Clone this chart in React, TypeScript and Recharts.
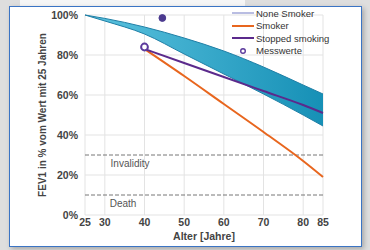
import { Area, CartesianGrid, ComposedChart, Label, Line, ReferenceLine, Scatter, XAxis, YAxis, ZAxis } from 'recharts'

const ages = [25, 30, 40, 50, 60, 70, 80, 85]
const nonSmokerHigh = [100, 98.3, 94, 88.5, 82, 74, 65, 60.5]
const nonSmokerLow = [100, 97, 90.5, 80.5, 70.5, 60.5, 50, 44.5]
const smoker = [null, null, 83, 69.5, 55.5, 41.5, 27, 19]
const stoppedSmoking = [null, null, 83, 76, 69, 62, 55, 51]
const measuredOpen = [{ age: 40, fev: 84 }]
const measuredFilled = [{ age: 44.5, fev: 98.5 }]
const xTicks = [25, 30, 40, 50, 60, 70, 80, 85]
const yTicks = [0, 20, 40, 60, 80, 100]
const limits = [
  { y: 30, name: 'Invalidity', dx: -74 },
  { y: 10, name: 'Death', dx: -81 },
]
const legendItems = [
  { name: 'None Smoker', color: '#b9bde2', kind: 'line' },
  { name: 'Smoker', color: '#e8661e', kind: 'line' },
  { name: 'Stopped smoking', color: '#5b2a8c', kind: 'line' },
  { name: 'Messwerte', color: '#5b3a9c', kind: 'dot' },
]

const rows = ages.map((age, i) => ({
  age,
  band: [nonSmokerLow[i], nonSmokerHigh[i]],
  smoker: smoker[i],
  stopped: stoppedSmoking[i],
}))

const font = 'Arial, "Liberation Sans", sans-serif'
const tickStyle = { fontSize: 10.5, fontWeight: 700, fill: '#444', fontFamily: font }

function LegendBox() {
  return (
    <div style={{ position: 'absolute', left: 222, top: 0, fontFamily: font, fontSize: 9.5, color: '#333' }}>
      {legendItems.map((item) => (
        <div key={item.name} style={{ display: 'flex', alignItems: 'center', height: 12.5 }}>
          <svg width={23} height={10} style={{ marginRight: 1 }}>
            {item.kind === 'line' ? (
              <line x1={0} x2={22} y1={5} y2={5} stroke={item.color} strokeWidth={2} />
            ) : (
              <circle cx={11} cy={5} r={2.3} fill="none" stroke={item.color} strokeWidth={1.4} />
            )}
          </svg>
          <span>{item.name}</span>
        </div>
      ))}
    </div>
  )
}

export default function App() {
  return (
    <div style={{ position: 'absolute', left: 0, top: 0, width: 370, height: 250, background: '#dedede', overflow: 'hidden' }}>
      <div style={{ position: 'absolute', left: 20, top: 0, width: 225, height: 6, background: '#f6f6f6' }} />
      <div
        style={{
          position: 'absolute',
          left: 9,
          top: 6,
          width: 353,
          height: 241,
          boxSizing: 'border-box',
          border: '1px solid #3b74c4',
          background: '#fff',
          boxShadow: '2px 2px 5px rgba(0,0,0,0.25)',
        }}
      >
        <ComposedChart width={351} height={239} data={rows} margin={{ top: 8, right: 38, bottom: 0, left: 0 }}>
          <defs>
            <linearGradient id="bandFill" x1="0" y1="0" x2="1" y2="0">
              <stop offset="0%" stopColor="#5cc3df" />
              <stop offset="100%" stopColor="#1690b6" />
            </linearGradient>
          </defs>
          <CartesianGrid stroke="#e3e3e3" />
          <XAxis
            dataKey="age"
            type="number"
            domain={[25, 85]}
            ticks={xTicks}
            interval={0}
            height={31}
            tickLine={false}
            axisLine={false}
            tickSize={2}
            tickMargin={2}
            tick={tickStyle}
          >
            <Label value="Alter [Jahre]" position="center" dy={6} style={{ ...tickStyle, fontSize: 10.5 }} />
          </XAxis>
          <YAxis
            type="number"
            domain={[0, 100]}
            ticks={yTicks}
            width={75}
            tickLine={false}
            axisLine={false}
            tickSize={5}
            tickMargin={2}
            tick={tickStyle}
            tickFormatter={(v) => `${v}%`}
          >
            <Label
              value="FEV1 in % vom Wert mit 25 Jahren"
              angle={-90}
              position="center"
              dx={-5}
              style={{ ...tickStyle, fontSize: 10 }}
            />
          </YAxis>
          <ZAxis range={[36, 36]} />
          {limits.map((l) => (
            <ReferenceLine key={l.name} y={l.y} stroke="#777" strokeDasharray="4 2" strokeWidth={1}>
              <Label value={l.name} position="bottom" dx={l.dx} style={{ fontFamily: font, fontSize: 10, fill: '#555' }} />
            </ReferenceLine>
          ))}
          <Area
            dataKey="band"
            type="monotone"
            fill="url(#bandFill)"
            fillOpacity={1}
            stroke="#1f7fa6"
            strokeWidth={1}
            isAnimationActive={false}
          />
          <Line dataKey="smoker" type="monotone" stroke="#e8661e" strokeWidth={2} dot={false} connectNulls isAnimationActive={false} />
          <Line dataKey="stopped" type="monotone" stroke="#5b2a8c" strokeWidth={2} dot={false} connectNulls isAnimationActive={false} />
          <Scatter data={measuredOpen} dataKey="fev" fill="#fff" stroke="#5b3a9c" strokeWidth={2} shape="circle" isAnimationActive={false} />
          <Scatter data={measuredFilled} dataKey="fev" fill="#4b3a8f" stroke="#4b3a8f" shape="circle" isAnimationActive={false} />
        </ComposedChart>
        <LegendBox />
      </div>
    </div>
  )
}
